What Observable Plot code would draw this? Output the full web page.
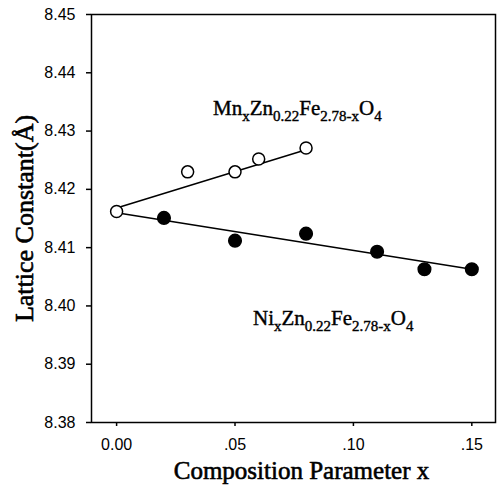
<!DOCTYPE html>
<html>
<head>
<meta charset="utf-8">
<script src="https://cdn.jsdelivr.net/npm/d3@7"></script>
<script src="https://cdn.jsdelivr.net/npm/@observablehq/plot@0.6"></script>
<style>
  html, body { margin: 0; padding: 0; background: #fff; }
</style>
</head>
<body>
<div id="chart"></div>
<script>
// Mn-substituted series (open circles)
const mnX = [0.00, 0.03, 0.05, 0.06, 0.08];
const mnY = [8.4162, 8.4230, 8.4230, 8.4252, 8.4271];
// Ni-substituted series (filled circles)
const niX = [0.02, 0.05, 0.08, 0.11, 0.13, 0.15];
const niY = [8.4151, 8.4112, 8.4124, 8.4093, 8.4063, 8.4063];
// fitted lines (endpoints)
const mnFitX = [0.00, 0.08];
const mnFitY = [8.4168, 8.4268];
const niFitX = [0.00, 0.15];
const niFitY = [8.4160, 8.4063];
// ticks
const xTicks = [0.00, 0.05, 0.10, 0.15];
const xTickLabels = ["0.00", ".05", ".10", ".15"];
const yTicks = [8.38, 8.39, 8.40, 8.41, 8.42, 8.43, 8.44, 8.45];
// labels
const xTitle = "Composition Parameter x";
const yTitle = "Lattice Constant(Å)";
const mnLabelParts = [["Mn", 0], ["x", 1], ["Zn", 0], ["0.22", 1], ["Fe", 0], ["2.78-x", 1], ["O", 0], ["4", 1]];
const mnLabelPos = [0.0409, 8.4327];
const niLabelParts = [["Ni", 0], ["x", 1], ["Zn", 0], ["0.22", 1], ["Fe", 0], ["2.78-x", 1], ["O", 0], ["4", 1]];
const niLabelPos = [0.0578, 8.3967];

const mn = mnX.map((x, i) => ({x, y: mnY[i]}));
const ni = niX.map((x, i) => ({x, y: niY[i]}));
const mnFit = mnFitX.map((x, i) => ({x, y: mnFitY[i]}));
const niFit = niFitX.map((x, i) => ({x, y: niFitY[i]}));

const serif = "'Liberation Serif', 'Times New Roman', serif";
const sans = "'Liberation Sans', Arial, sans-serif";

const chart = Plot.plot({
  width: 497,
  height: 485,
  marginLeft: 91,
  marginRight: 2,
  marginTop: 14,
  marginBottom: 63,
  style: {fontFamily: sans, background: "#fff", color: "#000"},
  x: {domain: [-0.0106, 0.1600]},
  y: {domain: [8.38, 8.45]},
  marks: [
    Plot.frame({stroke: "#000", strokeWidth: 1.5}),
    Plot.axisY({ticks: yTicks, tickSize: 5, tickPadding: 11, tickFormat: d3.format(".2f"), fontSize: 16, label: null, strokeWidth: 1.5}),
    Plot.axisX({ticks: xTicks, tickSize: 4, tickPadding: 12, tickFormat: (d, i) => xTickLabels[i], fontSize: 16, label: null, strokeWidth: 1.5}),
    Plot.line(mnFit, {x: "x", y: "y", stroke: "#000", strokeWidth: 1.5}),
    Plot.line(niFit, {x: "x", y: "y", stroke: "#000", strokeWidth: 1.5}),
    Plot.dot(ni, {x: "x", y: "y", r: 6.3, fill: "#000", stroke: "#000"}),
    Plot.dot(mn, {x: "x", y: "y", r: 6, fill: "#fff", stroke: "#000", strokeWidth: 1.5}),
    Plot.text([xTitle], {frameAnchor: "bottom", textAnchor: "middle", lineAnchor: "middle", dx: 8, dy: 48, fontSize: 25, fontFamily: serif, fill: "#000", stroke: "#000", strokeWidth: 0.6}),
    Plot.text([yTitle], {frameAnchor: "left", textAnchor: "middle", lineAnchor: "middle", dx: -67, rotate: -90, fontSize: 26, fontFamily: serif, fill: "#000", stroke: "#000", strokeWidth: 0.6})
  ]
});

// chemical formula labels with subscripts, positioned through the chart's scales
const svg = d3.select(chart);
const sx = chart.scale("x"), sy = chart.scale("y");
function formula(parts, pos) {
  const t = svg.append("text")
    .attr("x", sx.apply(pos[0]))
    .attr("y", sy.apply(pos[1]))
    .attr("text-anchor", "start")
    .attr("font-family", serif)
    .attr("font-size", 21)
    .attr("fill", "#000")
    .attr("stroke", "#000")
    .attr("stroke-width", 0.4);
  let prevSub = false;
  parts.forEach(([s, sub]) => {
    const ts = t.append("tspan").text(s);
    if (sub) { ts.attr("font-size", 15).attr("dy", prevSub ? 0 : 6); }
    else { ts.attr("dy", prevSub ? -6 : 0); }
    prevSub = !!sub;
  });
}
formula(mnLabelParts, mnLabelPos);
formula(niLabelParts, niLabelPos);

document.getElementById("chart").appendChild(chart);
</script>
</body>
</html>
